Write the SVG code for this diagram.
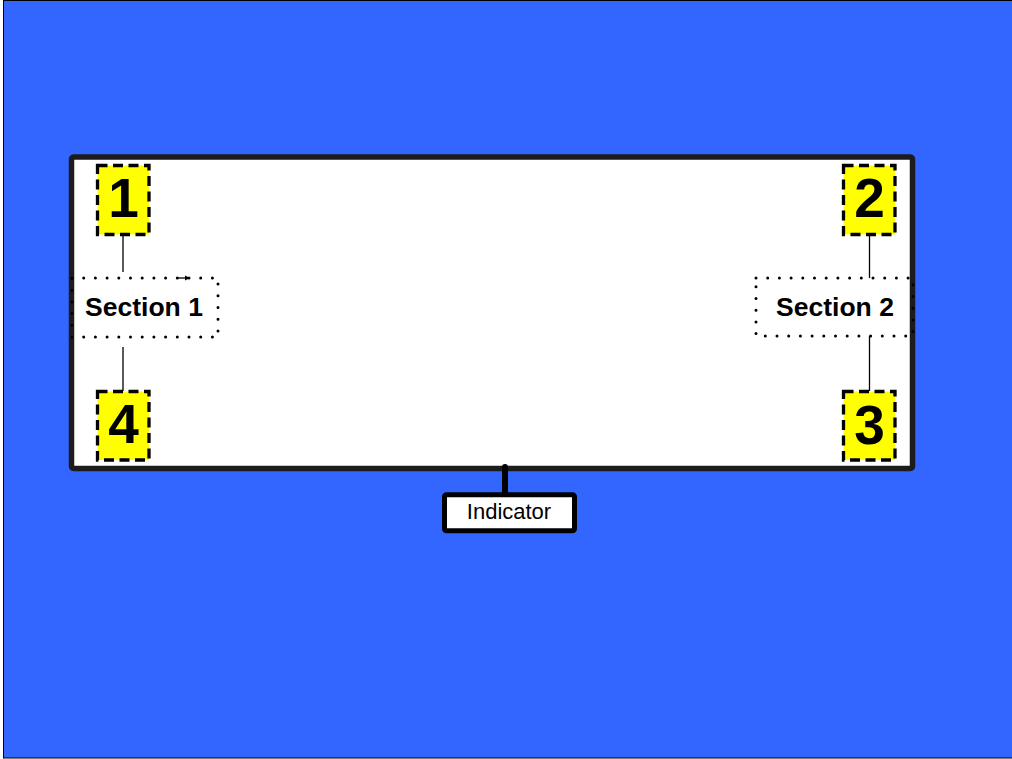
<svg xmlns="http://www.w3.org/2000/svg" width="1012" height="759" viewBox="0 0 1012 759">
<defs>
<style>
.num{font-family:"Liberation Sans",Arial,sans-serif;font-weight:bold;font-size:55px;fill:#000;text-anchor:middle}
.sec{font-family:"Liberation Sans",Arial,sans-serif;font-weight:bold;font-size:26.5px;fill:#000;text-anchor:middle}
.ybox{fill:#ffff00;stroke:#000;stroke-width:3.3;stroke-dasharray:10 5.5}
.dot{fill:none;stroke:#000;stroke-width:3;stroke-linecap:round;stroke-dasharray:0 11.7}
.link{stroke:#000;stroke-width:1.3;fill:none}
</style>
<marker id="ah" viewBox="0 0 6 6" refX="6" refY="3" markerWidth="4" markerHeight="4" orient="auto"><path d="M0,0 L6,3 L0,6 z" fill="#000"/></marker>
</defs>
<rect x="3.5" y="0.5" width="1020" height="757.5" fill="#3366ff" stroke="#000" stroke-width="1"/>
<g id="frame">
<rect x="71.5" y="157" width="841" height="311.5" rx="2" fill="#fff" stroke="#1c1c1c" stroke-width="5.5"/>
</g>
<g id="connectors">
<line class="link" x1="123" y1="236" x2="123" y2="272"/>
<line class="link" x1="123" y1="347" x2="123" y2="391"/>
<line class="link" x1="869.5" y1="236" x2="869.5" y2="278"/>
<line class="link" x1="869.5" y1="336" x2="869.5" y2="391"/>
<line class="link" x1="177" y1="278" x2="190" y2="278" marker-end="url(#ah)"/>
<line x1="505" y1="467" x2="505" y2="495" stroke="#000" stroke-width="6" stroke-linecap="round"/>
</g>
<g id="section1">
<rect class="dot" x="72" y="278" width="146" height="59"/>
<text class="sec" x="144" y="315.8">Section 1</text>
</g>
<g id="section2">
<rect class="dot" x="756" y="278" width="157" height="58"/>
<text class="sec" x="835" y="315.8">Section 2</text>
</g>
<g id="box1">
<rect class="ybox" x="97.5" y="165.5" width="51.5" height="69"/>
<text class="num" x="123.5" y="216.7">1</text>
</g>
<g id="box2">
<rect class="ybox" x="843.5" y="165.5" width="51.5" height="69"/>
<text class="num" x="869.5" y="217">2</text>
</g>
<g id="box3">
<rect class="ybox" x="843.5" y="391.5" width="51.5" height="68.5"/>
<text class="num" x="869.5" y="443.5">3</text>
</g>
<g id="box4">
<rect class="ybox" x="97.5" y="391.5" width="51.5" height="68.5"/>
<text class="num" x="123.5" y="443.3">4</text>
</g>
<g id="indicator">
<rect x="444.5" y="494.8" width="130" height="36" rx="2" fill="#fff" stroke="#000" stroke-width="5"/>
<text x="509" y="519.3" font-family="Liberation Sans, Arial, sans-serif" font-size="22" text-anchor="middle" fill="#000">Indicator</text>
</g>
</svg>
